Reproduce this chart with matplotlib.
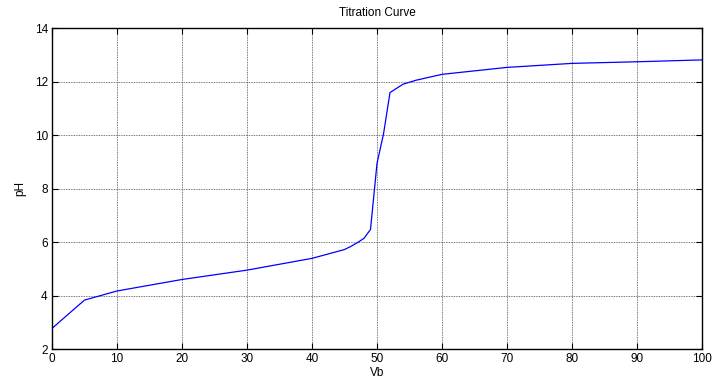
import matplotlib
matplotlib.use("Agg")
import matplotlib.pyplot as plt

vb = [0, 5, 10, 20, 30, 40, 45, 46, 47, 48, 49, 50, 51, 52, 54, 56, 60, 70, 80, 90, 100]
ph = [2.78, 3.84, 4.18, 4.61, 4.96, 5.40, 5.73, 5.85, 5.99, 6.15, 6.48, 8.95, 10.05, 11.6,
      11.91, 12.06, 12.28, 12.54, 12.69, 12.75, 12.82]
xticks = list(range(0, 101, 10))
yticks = list(range(2, 15, 2))

plt.rcParams['font.family'] = ['Liberation Sans', 'DejaVu Sans']
fig = plt.figure(figsize=(7.12, 3.83), dpi=100)
ax = fig.add_axes([0.073, 0.088, 0.913, 0.838])
ax.plot(vb, ph, color='#0000ff', linewidth=0.9)
ax.set_xlim(0, 100)
ax.set_ylim(2, 14)
ax.set_xticks(xticks)
ax.set_yticks(yticks)
ax.grid(True, linestyle=(0, (1, 1)), color='0.3', linewidth=0.6)
ax.tick_params(direction='in', top=True, right=True, length=4, width=0.8,
               labelsize=8.5, colors='k', pad=3)
for s in ax.spines.values():
    s.set_linewidth(1.0)
ax.set_xlabel('Vb', fontsize=8.5, labelpad=1)
ax.set_ylabel('pH', fontsize=8.5, labelpad=6)
ax.set_title('Titration Curve', fontsize=8.5, pad=9)
fig.savefig('out.png', dpi=100)
